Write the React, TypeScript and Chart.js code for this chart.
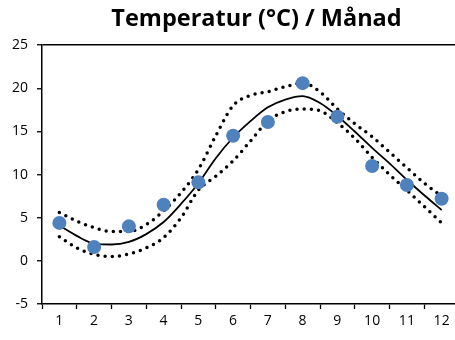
import React, { useEffect, useRef } from "react";
import { Chart, registerables } from "chart.js";

Chart.register(...registerables);

const months = [1, 2, 3, 4, 5, 6, 7, 8, 9, 10, 11, 12];
const temps = [4.4, 1.6, 4.0, 6.5, 9.1, 14.5, 16.1, 20.6, 16.7, 11.0, 8.8, 7.2];

const fitX = [1, 1.5, 2, 2.5, 3, 3.5, 4, 4.5, 5, 5.5, 6, 6.5, 7, 7.5, 8, 8.5, 9, 9.5, 10, 10.5, 11, 11.5, 12];
const fitMid = [4.1, 2.9, 2.0, 1.9, 2.2, 3.1, 4.5, 6.6, 9.0, 11.9, 14.3, 16.2, 17.8, 18.7, 19.1, 18.3, 16.8, 15.0, 13.1, 11.3, 9.4, 7.6, 5.9];
const fitUpper = [5.6, 4.6, 3.85, 3.4, 3.4, 4.2, 5.8, 7.9, 10.6, 14.5, 18.0, 19.2, 19.6, 20.2, 20.6, 19.6, 17.6, 15.9, 14.4, 12.6, 10.8, 9.0, 7.5];
const fitLower = [2.8, 1.5, 0.75, 0.5, 0.8, 1.5, 2.7, 5.0, 8.2, 9.8, 11.6, 13.9, 16.2, 17.3, 17.6, 17.4, 16.0, 14.2, 12.0, 10.0, 8.2, 6.3, 4.4];

const yMin = -5;
const yMax = 25;
const yStep = 5;
const titleText = "Temperatur (°C) / Månad";

const FONT = "'Open Sans', 'DejaVu Sans', sans-serif";

const titleShift = {
  id: "titleShift",
  afterLayout(chart: any) {
    const tb = chart.titleBlock;
    if (tb) {
      tb.left += 6;
      tb.right += 6;
    }
  },
};

export default function App() {
  const ref = useRef<HTMLCanvasElement | null>(null);

  useEffect(() => {
    const canvas = ref.current;
    if (!canvas) return;
    const pts = (ys: number[]) => fitX.map((x, i) => ({ x, y: ys[i] }));
    const chart = new Chart(canvas, {
      type: "line",
      plugins: [titleShift],
      data: {
        datasets: [
          {
            label: "Temperatur",
            data: months.map((m, i) => ({ x: m, y: temps[i] })),
            showLine: false,
            pointRadius: 7,
            pointHoverRadius: 7,
            pointBackgroundColor: "#4F81BD",
            pointBorderWidth: 0,
            borderColor: "#4F81BD",
          },
          {
            label: "Anpassning",
            data: pts(fitMid),
            borderColor: "#000",
            borderWidth: 1.8,
            pointRadius: 0,
            cubicInterpolationMode: "monotone",
          },
          {
            label: "Övre",
            data: pts(fitUpper),
            borderColor: "#000",
            borderWidth: 3.5,
            borderDash: [0, 7.2],
            borderCapStyle: "round",
            pointRadius: 0,
            cubicInterpolationMode: "monotone",
          },
          {
            label: "Undre",
            data: pts(fitLower),
            borderColor: "#000",
            borderWidth: 3.5,
            borderDash: [0, 7.2],
            borderCapStyle: "round",
            pointRadius: 0,
            cubicInterpolationMode: "monotone",
          },
        ],
      },
      options: {
        responsive: false,
        animation: false,
        devicePixelRatio: 1,
        layout: { padding: { left: 0, right: 2, top: 0, bottom: 0 } },
        plugins: {
          legend: { display: false },
          tooltip: { enabled: false },
          title: {
            display: true,
            text: titleText,
            fullSize: false,
            color: "#000",
            font: { family: FONT, size: 23.5, weight: "bold", lineHeight: 1.2 },
            padding: { top: 5.5, bottom: 11.5 },
          },
        },
        scales: {
          x: {
            type: "linear",
            min: 0.5,
            max: 12.5,
            afterBuildTicks: (scale: any) => {
              scale.ticks = months.map((v) => ({ value: v }));
            },
            afterFit: (scale: any) => {
              scale.height = 36;
            },
            grid: {
              offset: true,
              drawOnChartArea: false,
              drawTicks: true,
              tickLength: 5,
              tickColor: "#000",
              tickWidth: 1.3,
            },
            border: { display: true, color: "#000", width: 1.5 },
            ticks: {
              color: "#000",
              font: { family: FONT, size: 14 },
              padding: 4,
              maxRotation: 0,
              autoSkip: false,
              callback: (v: any) => String(v),
            },
          },
          y: {
            type: "linear",
            min: yMin,
            max: yMax,
            afterFit: (scale: any) => {
              scale.width = 42;
            },
            grid: {
              drawOnChartArea: true,
              color: (ctx: any) => (ctx.tick && ctx.tick.value === yMax ? "#000" : "rgba(0,0,0,0)"),
              lineWidth: 1.5,
              drawTicks: true,
              tickLength: 5,
              tickColor: "#000",
              tickWidth: 1.3,
            },
            border: { display: true, color: "#000", width: 1.5 },
            ticks: {
              stepSize: yStep,
              color: "#000",
              font: { family: FONT, size: 14 },
              padding: 9,
            },
          },
        },
      },
    });
    return () => chart.destroy();
  }, []);

  return (
    <div style={{ position: "fixed", left: 0, top: 0, width: 466, height: 340, background: "#fff" }}>
      <canvas ref={ref} width={466} height={340} style={{ display: "block" }} />
    </div>
  );
}
